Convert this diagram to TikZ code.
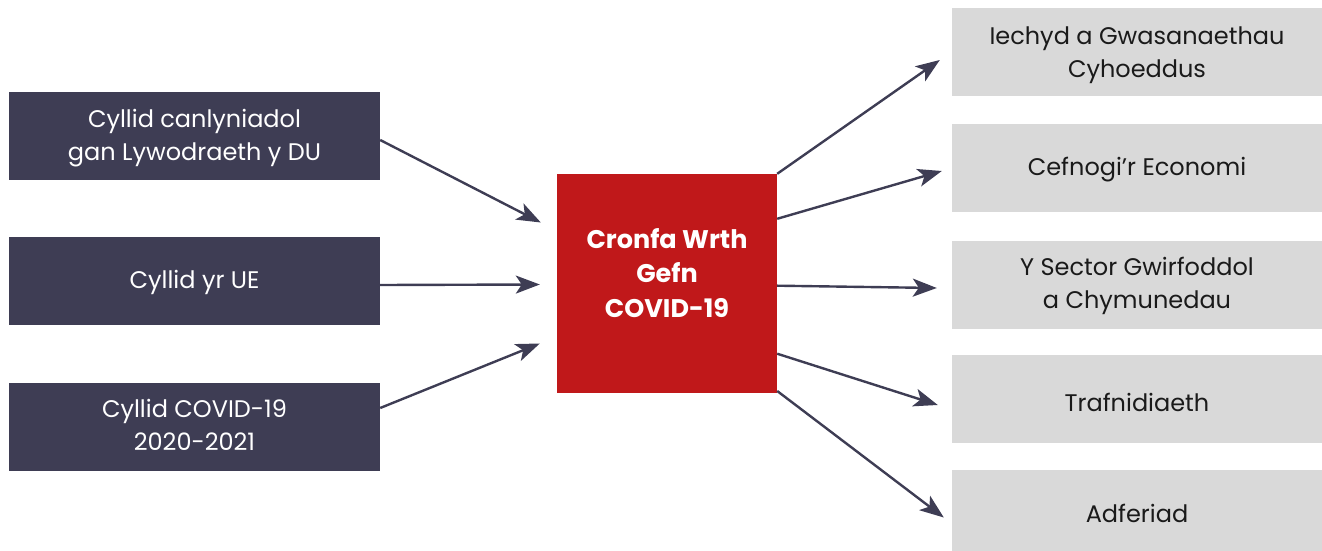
\documentclass[tikz,border=0pt]{standalone}
\usepackage{fontspec}
\setmainfont{Poppins}
\usetikzlibrary{arrows.meta,calc}
\definecolor{navy}{HTML}{3E3D54}
\definecolor{redbox}{HTML}{C0181A}
\definecolor{greybox}{HTML}{D9D9D9}
\definecolor{txt}{HTML}{1A1A1A}
\newcommand\btext[2]{\raisebox{#1}[0pt][0pt]{\begin{tabular}[b]{@{}c@{}}#2\end{tabular}}}
\tikzset{
  srcbox/.style={fill=navy, text=white, minimum width=371pt, minimum height=88pt, inner sep=0pt, font=\fontsize{24}{33.5}\selectfont},
  dstbox/.style={fill=greybox, text=txt, minimum width=370pt, minimum height=88pt, inner sep=0pt, font=\fontsize{24}{33}\selectfont},
  hubbox/.style={fill=redbox, text=white, minimum width=220pt, minimum height=219pt, inner sep=0pt, font=\fontsize{25.5}{34.5}\selectfont\bfseries},
  flow/.style={draw=navy, line width=2.4pt, -{Stealth[length=24pt,width=18pt,inset=6pt]}}
}
\begin{document}
\begin{tikzpicture}[x=1pt,y=-1pt]
\useasboundingbox (0,0) rectangle (1322,551);
\node[srcbox] (l1) at (194.5,136) {\btext{-24.7pt}{Cyllid canlyniadol\\gan Lywodraeth y DU}};
\node[srcbox] (l2) at (194.5,281) {\btext{-7.3pt}{Cyllid yr UE}};
\node[srcbox] (l3) at (194.5,427) {\btext{-23.7pt}{Cyllid COVID-19\\2020-2021}};
\node[hubbox] (c) at (667,283.5) {\btext{-33.5pt}{Cronfa Wrth\\Gefn\\COVID-19}};
\node[dstbox] (r1) at (1137,52) {\btext{-25.3pt}{Iechyd a Gwasanaethau\\Cyhoeddus}};
\node[dstbox] (r2) at (1137,168) {\btext{-7pt}{Cefnogi’r Economi}};
\node[dstbox] (r3) at (1137,285) {\btext{-23.3pt}{Y Sector Gwirfoddol\\a Chymunedau}};
\node[dstbox] (r4) at (1137,399) {\btext{-12.7pt}{Trafnidiaeth}};
\node[dstbox, minimum height=81pt] (r5) at (1137,510.5) {\btext{-11.8pt}{Adferiad}};
% inputs
\draw[flow] ($(l1.east)+(0,4)$) -- ($(c.west)+(-16,-61)$);
\draw[flow] ($(l2.east)+(0,4)$) -- ($(c.west)+(-17,1)$);
\draw[flow] ($(l3.east)+(0,-19)$) -- ($(c.west)+(-17,60)$);
% outputs
\draw[flow] (c.north east) -- ($(r1.west)+(-12,8)$);
\draw[flow] ($(c.north east)!0.205!(c.south east)$) -- ($(r2.west)+(-10,3)$);
\draw[flow] ($(c.north east)!0.51!(c.south east)$) -- ($(r3.west)+(-15,3)$);
\draw[flow] ($(c.north east)!0.82!(c.south east)$) -- ($(r4.west)+(-14,6)$);
\draw[flow] ($(c.north east)!0.99!(c.south east)$) -- ($(r5.west)+(-8,7)$);
\end{tikzpicture}
\end{document}
